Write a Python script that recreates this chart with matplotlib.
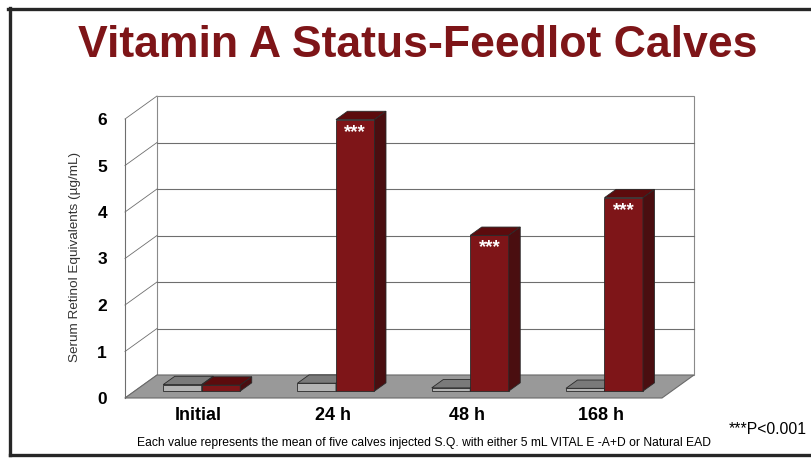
import matplotlib
matplotlib.use("Agg")
import matplotlib.pyplot as plt
from matplotlib.patches import Polygon
from matplotlib.lines import Line2D
from matplotlib import font_manager as fm

# ---------------- data ----------------
categories = ["Initial", "24 h", "48 h", "168 h"]
control_vals = [0.14, 0.17, 0.07, 0.06]
treated_vals = [0.13, 5.84, 3.35, 4.16]
sig_labels = ["", "***", "***", "***"]
yticks = [0, 1, 2, 3, 4, 5, 6]

title = "Vitamin A Status-Feedlot Calves"
ylabel = "Serum Retinol Equivalents (µg/mL)"
footnote = "Each value represents the mean of five calves injected S.Q. with either 5 mL VITAL E -A+D or Natural EAD"
pnote = "***P<0.001"

# ---------------- style ----------------
RED = "#7e1518"
RED_TOP = "#5c0b0d"
RED_SIDE = "#4a0e10"
GRAY = "#b4b4b4"
GRAY_TOP = "#7a7a7a"
GRAY_SIDE = "#6a6a6a"
FLOOR = "#999999"
TITLE_C = "#7e1518"

def has_font(name):
    try:
        fm.findfont(fm.FontProperties(family=name), fallback_to_default=False)
        return True
    except Exception:
        return False

base_font = "Liberation Sans" if has_font("Liberation Sans") else "DejaVu Sans"
plt.rcParams["font.family"] = [base_font, "DejaVu Sans"]

W, H = 811, 459
fig = plt.figure(figsize=(W / 100, H / 100), dpi=100)

# front plane of the chart (pixels)
L, R, B, T = 125, 662, 398, 119
ax = fig.add_axes([L / W, (H - B) / H, (R - L) / W, (B - T) / H])
ax.set_xlim(0, len(categories))
ax.set_ylim(0, 6)
for s in ax.spines.values():
    s.set_visible(False)
ax.patch.set_visible(False)

# depth offset (pixels) converted to data units
DEPTH_PX_X, DEPTH_PX_Y = 32, 23
DX = DEPTH_PX_X / ((R - L) / len(categories))
DY = DEPTH_PX_Y / ((B - T) / 6)

def P(x, y, d):
    return (x + d * DX, y + d * DY)

def poly(pts, fc, ec, lw=0.7, z=1):
    ax.add_patch(Polygon(pts, closed=True, facecolor=fc, edgecolor=ec,
                         linewidth=lw, clip_on=False, zorder=z))

def line(p1, p2, c="#7a7a7a", lw=0.8, z=1):
    ax.add_line(Line2D([p1[0], p2[0]], [p1[1], p2[1]], color=c, lw=lw,
                       clip_on=False, zorder=z))

n = len(categories)
ymax = yticks[-1]
# back wall
poly([P(0, 0, 1), P(n, 0, 1), P(n, ymax, 1), P(0, ymax, 1)], "white", "#8a8a8a", 0.8, 0.5)
for k in yticks[1:-1]:
    line(P(0, k, 1), P(n, k, 1), "#6e6e6e", 0.8, 0.6)
# left wall lines
for k in yticks:
    line(P(0, k, 0), P(0, k, 1), "#6e6e6e", 0.6, 0.6)
line(P(0, 0, 0), P(0, ymax, 0), "#6e6e6e", 0.8, 0.6)
# floor
poly([P(0, 0, 0), P(n, 0, 0), P(n, 0, 1), P(0, 0, 1)], FLOOR, "#6a6a6a", 0.8, 0.7)

# bars
w = 38.5 / ((R - L) / n)
d0, d1 = 0.30, 0.66

def bar3d(xl, h, fc, tc, sc, z):
    xr = xl + w
    ax.bar(xl + d0 * DX, h, width=w, bottom=d0 * DY, align="edge",
           color=fc, edgecolor="#2a2a2a", linewidth=0.6, zorder=z, clip_on=False)
    poly([P(xl, h, d0), P(xr, h, d0), P(xr, h, d1), P(xl, h, d1)], tc, "#2a2a2a", 0.6, z)
    poly([P(xr, 0, d0), P(xr, h, d0), P(xr, h, d1), P(xr, 0, d1)], sc, "#2a2a2a", 0.6, z)

for i in range(n):
    c = i + 0.5
    bar3d(c - w, control_vals[i], GRAY, GRAY_TOP, GRAY_SIDE, 2 + i * 0.1)
    bar3d(c, treated_vals[i], RED, RED_TOP, RED_SIDE, 2.05 + i * 0.1)
    if sig_labels[i]:
        x, y = P(c + w / 2, treated_vals[i], d0)
        ax.annotate(sig_labels[i], (x, y), xytext=(0, -3), textcoords="offset points",
                    ha="center", va="top", color="white", fontsize=13.5,
                    fontweight="bold", zorder=5, annotation_clip=False)

# ticks
ax.set_yticks(yticks)
ax.set_yticklabels([str(t) for t in yticks], fontsize=12.5, fontweight="bold")
ax.tick_params(axis="y", length=0, pad=13)
ax.set_xticks([])
for i, cat in enumerate(categories):
    x, _ = P(i + 0.5, 0, 0.2)
    ax.text(x, -0.385, cat, ha="center", va="center", fontsize=13, fontweight="bold")

fig.text(75 / W, 1 - 257 / H, ylabel, rotation=90, ha="center", va="center",
         fontsize=9.7, color="#333333")

# title, fitted to width
tt = fig.text(418 / W, 1 - 57 / H, title, ha="center", va="baseline",
              fontsize=34, fontweight="bold", color=TITLE_C)
fig.canvas.draw()
r = fig.canvas.get_renderer()
bw = tt.get_window_extent(r).width
tt.set_fontsize(min(34, 34 * 682 / bw))

fn = fig.text(137 / W, 1 - 446 / H, footnote, ha="left", va="baseline",
              fontsize=8, color="black")
fig.canvas.draw()
bw = fn.get_window_extent(r).width
fn.set_fontsize(8 * 578 / bw)

fig.text(729 / W, 1 - 434 / H, pnote, ha="left", va="baseline", fontsize=11.3, color="black")

# frame border
for (x1, y1, x2, y2) in [(8, 9, 811, 9), (9.5, 8, 9.5, 455), (9.5, 455, 811, 455)]:
    fig.add_artist(Line2D([x1 / W, x2 / W], [1 - y1 / H, 1 - y2 / H], color="#262626",
                          lw=2.4, transform=fig.transFigure))

fig.savefig("out.png", dpi=100)
